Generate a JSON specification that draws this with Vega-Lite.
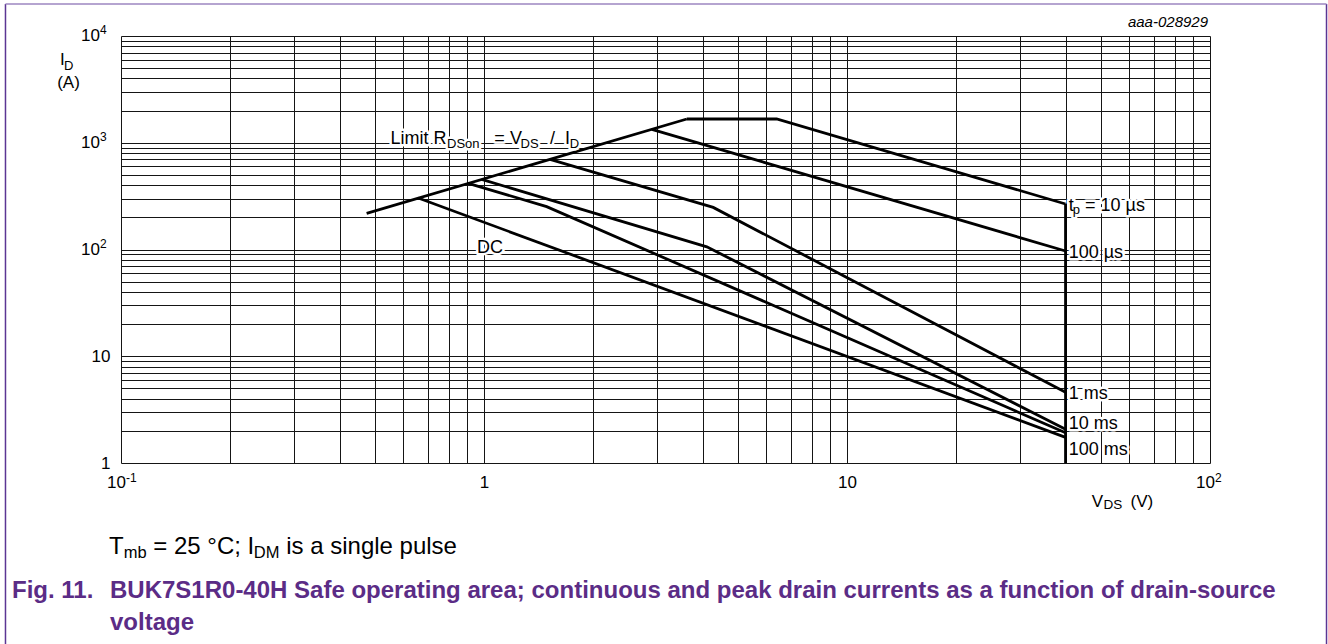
{
  "$schema": "https://vega.github.io/schema/vega-lite/v6.json",
  "width": 1089,
  "height": 427,
  "autosize": {"type": "none"},
  "padding": {"left": 121, "top": 36, "right": 118, "bottom": 181},
  "background": "white",
  "config": {"view": {"stroke": null}, "font": "Liberation Sans"},
  "datasets": {
    "soa": [
      {"series": "Limit RDSon", "k": 0, "V": 0.475, "I": 218},
      {"series": "Limit RDSon", "k": 1, "V": 3.62, "I": 1669},
      {"series": "10 us", "k": 0, "V": 3.62, "I": 1669},
      {"series": "10 us", "k": 1, "V": 6.4, "I": 1669},
      {"series": "10 us", "k": 2, "V": 40, "I": 267},
      {"series": "100 us", "k": 0, "V": 2.9, "I": 1336},
      {"series": "100 us", "k": 1, "V": 40, "I": 96.8},
      {"series": "1 ms", "k": 0, "V": 1.52, "I": 700},
      {"series": "1 ms", "k": 1, "V": 4.28, "I": 248},
      {"series": "1 ms", "k": 2, "V": 40, "I": 4.59},
      {"series": "10 ms", "k": 0, "V": 0.985, "I": 454},
      {"series": "10 ms", "k": 1, "V": 4.11, "I": 106},
      {"series": "10 ms", "k": 2, "V": 40, "I": 2.07},
      {"series": "100 ms", "k": 0, "V": 0.905, "I": 417},
      {"series": "100 ms", "k": 1, "V": 1.488, "I": 252},
      {"series": "100 ms", "k": 2, "V": 40, "I": 1.92},
      {"series": "DC", "k": 0, "V": 0.659, "I": 304},
      {"series": "DC", "k": 1, "V": 40, "I": 1.74},
      {"series": "VDS max", "k": 0, "V": 40, "I": 267},
      {"series": "VDS max", "k": 1, "V": 40, "I": 1}
    ],
    "notes": [
      {"label": "Limit R", "V": 0.5525, "I": 967, "part": "main"},
      {"label": "DSon", "V": 0.791, "I": 898.6, "part": "sub"},
      {"label": "= V", "V": 1.068, "I": 967, "part": "main"},
      {"label": "DS", "V": 1.261, "I": 898.6, "part": "sub"},
      {"label": "/", "V": 1.52, "I": 967, "part": "main"},
      {"label": "I", "V": 1.672, "I": 967, "part": "main"},
      {"label": "D", "V": 1.722, "I": 898.6, "part": "sub"},
      {"label": "DC", "V": 0.9566, "I": 92.1, "part": "main"},
      {"label": "t", "V": 40.8, "I": 230.9, "part": "main"},
      {"label": "p", "V": 41.9, "I": 215, "part": "sub"},
      {"label": "= 10 µs", "V": 45.25, "I": 230.9, "part": "main"},
      {"label": "100 µs", "V": 40.8, "I": 82.7, "part": "main"},
      {"label": "1 ms", "V": 40.8, "I": 3.977, "part": "main"},
      {"label": "10 ms", "V": 40.8, "I": 2.069, "part": "main"},
      {"label": "100 ms", "V": 40.8, "I": 1.181, "part": "main"}
    ],
    "yDecades": [
      {"V": 0.1, "I": 100, "e": "2"},
      {"V": 0.1, "I": 1000, "e": "3"},
      {"V": 0.1, "I": 10000, "e": "4"}
    ],
    "xDecades": [
      {"V": 0.1, "I": 1, "e": "-1"},
      {"V": 100, "I": 1, "e": "2"}
    ],
    "topLeft": [{"V": 0.1, "I": 10000}],
    "topRight": [{"V": 100, "I": 10000}],
    "bottomLeft": [{"V": 0.1, "I": 1}],
    "bottomRight": [{"V": 100, "I": 1}],
    "frameSides": [
      {"V": 0.04806, "I": 19940, "I2": 0.0177},
      {"V": 209.4, "I": 19940, "I2": 0.0177}
    ],
    "frameTop": [{"V": 0.04806, "V2": 209.4, "I": 19940}]
  },
  "encoding": {
    "x": {
      "field": "V",
      "type": "quantitative",
      "scale": {"type": "log", "domain": [0.1, 100], "nice": false},
      "axis": {
        "values": [0.1, 0.2, 0.3, 0.4, 0.5, 0.6, 0.7, 0.8, 0.9, 1, 2, 3, 4, 5, 6, 7, 8, 9, 10, 20, 30, 40, 50, 60, 70, 80, 90, 100],
        "grid": true,
        "gridColor": "#151515",
        "gridWidth": 1,
        "gridOpacity": 1,
        "ticks": false,
        "tickSize": 0,
        "domain": false,
        "labelExpr": "datum.value == 1 ? '1' : datum.value == 10 ? '10' : ''",
        "labelFont": "Liberation Sans",
        "labelFontSize": 17,
        "labelColor": "#000",
        "labelPadding": 19,
        "labelBaseline": "middle",
        "labelOverlap": false,
        "labelBound": false,
        "labelFlush": false,
        "title": null
      }
    },
    "y": {
      "field": "I",
      "type": "quantitative",
      "scale": {"type": "log", "domain": [1, 10000], "nice": false},
      "axis": {
        "values": [1, 2, 3, 4, 5, 6, 7, 8, 9, 10, 20, 30, 40, 50, 60, 70, 80, 90, 100, 200, 300, 400, 500, 600, 700, 800, 900, 1000, 2000, 3000, 4000, 5000, 6000, 7000, 8000, 9000, 10000],
        "grid": true,
        "gridColor": "#151515",
        "gridWidth": 1,
        "gridOpacity": 1,
        "ticks": false,
        "tickSize": 0,
        "domain": false,
        "labelExpr": "datum.value == 1 ? '1' : datum.value == 10 ? '10' : ''",
        "labelFont": "Liberation Sans",
        "labelFontSize": 17,
        "labelColor": "#000",
        "labelPadding": 11,
        "labelBaseline": "middle",
        "labelOverlap": false,
        "labelBound": false,
        "title": null
      }
    }
  },
  "layer": [
    {
      "data": {"name": "soa"},
      "mark": {"type": "line", "color": "#000", "strokeWidth": 2.8, "strokeJoin": "miter"},
      "encoding": {
        "detail": {"field": "series"},
        "order": {"field": "k", "type": "quantitative"}
      }
    },
    {
      "data": {"name": "notes"},
      "mark": {"type": "text", "align": "left", "baseline": "alphabetic", "font": "Liberation Sans", "fill": "white", "stroke": "white", "strokeWidth": 5, "strokeJoin": "round"},
      "encoding": {
        "text": {"field": "label"},
        "size": {"field": "part", "type": "ordinal", "scale": {"domain": ["main", "sub"], "range": [18, 13]}, "legend": null}
      }
    },
    {
      "data": {"name": "notes"},
      "mark": {"type": "text", "align": "left", "baseline": "alphabetic", "font": "Liberation Sans", "fill": "#000"},
      "encoding": {
        "text": {"field": "label"},
        "size": {"field": "part", "type": "ordinal", "scale": {"domain": ["main", "sub"], "range": [18, 13]}, "legend": null}
      }
    },
    {
      "data": {"name": "yDecades"},
      "mark": {"type": "text", "align": "right", "baseline": "middle", "dx": -21, "fontSize": 17, "font": "Liberation Sans", "fill": "#000"},
      "encoding": {"text": {"value": "10"}}
    },
    {
      "data": {"name": "yDecades"},
      "mark": {"type": "text", "align": "left", "baseline": "middle", "dx": -21, "dy": -6, "fontSize": 12, "font": "Liberation Sans", "fill": "#000"},
      "encoding": {"text": {"field": "e"}}
    },
    {
      "data": {"name": "xDecades"},
      "mark": {"type": "text", "align": "right", "baseline": "middle", "dx": 5, "dy": 19.5, "fontSize": 17, "font": "Liberation Sans", "fill": "#000"},
      "encoding": {"text": {"value": "10"}}
    },
    {
      "data": {"name": "xDecades"},
      "mark": {"type": "text", "align": "left", "baseline": "middle", "dx": 5, "dy": 14.5, "fontSize": 12, "font": "Liberation Sans", "fill": "#000"},
      "encoding": {"text": {"field": "e"}}
    },
    {
      "data": {"name": "topLeft"},
      "mark": {"type": "text", "align": "left", "baseline": "alphabetic", "dx": -61, "dy": 29, "fontSize": 17, "font": "Liberation Sans", "fill": "#000"},
      "encoding": {"text": {"value": "I"}}
    },
    {
      "data": {"name": "topLeft"},
      "mark": {"type": "text", "align": "left", "baseline": "alphabetic", "dx": -57, "dy": 34, "fontSize": 13, "font": "Liberation Sans", "fill": "#000"},
      "encoding": {"text": {"value": "D"}}
    },
    {
      "data": {"name": "topLeft"},
      "mark": {"type": "text", "align": "center", "baseline": "alphabetic", "dx": -52.5, "dy": 52, "fontSize": 17, "font": "Liberation Sans", "fill": "#000"},
      "encoding": {"text": {"value": "(A)"}}
    },
    {
      "data": {"name": "bottomRight"},
      "mark": {"type": "text", "align": "left", "baseline": "alphabetic", "dx": -118.3, "dy": 43.7, "fontSize": 17, "font": "Liberation Sans", "fill": "#000"},
      "encoding": {"text": {"value": "V"}}
    },
    {
      "data": {"name": "bottomRight"},
      "mark": {"type": "text", "align": "left", "baseline": "alphabetic", "dx": -106.5, "dy": 46, "fontSize": 13.5, "font": "Liberation Sans", "fill": "#000"},
      "encoding": {"text": {"value": "DS"}}
    },
    {
      "data": {"name": "bottomRight"},
      "mark": {"type": "text", "align": "left", "baseline": "alphabetic", "dx": -79.5, "dy": 43.7, "fontSize": 17, "font": "Liberation Sans", "fill": "#000"},
      "encoding": {"text": {"value": "(V)"}}
    },
    {
      "data": {"name": "topRight"},
      "mark": {"type": "text", "align": "right", "baseline": "alphabetic", "dx": -2, "dy": -9, "fontSize": 15, "fontStyle": "italic", "font": "Liberation Sans", "fill": "#000"},
      "encoding": {"text": {"value": "aaa-028929"}}
    },
    {
      "data": {"name": "bottomLeft"},
      "mark": {"type": "text", "align": "left", "baseline": "alphabetic", "dx": -12, "dy": 90.5, "fontSize": 24, "font": "Liberation Sans", "fill": "#000"},
      "encoding": {"text": {"value": "T"}}
    },
    {
      "data": {"name": "bottomLeft"},
      "mark": {"type": "text", "align": "left", "baseline": "alphabetic", "dx": 2.7, "dy": 94.5, "fontSize": 16.5, "font": "Liberation Sans", "fill": "#000"},
      "encoding": {"text": {"value": "mb"}}
    },
    {
      "data": {"name": "bottomLeft"},
      "mark": {"type": "text", "align": "left", "baseline": "alphabetic", "dx": 32.3, "dy": 90.5, "fontSize": 24, "font": "Liberation Sans", "fill": "#000"},
      "encoding": {"text": {"value": "= 25 °C; I"}}
    },
    {
      "data": {"name": "bottomLeft"},
      "mark": {"type": "text", "align": "left", "baseline": "alphabetic", "dx": 132.8, "dy": 94.5, "fontSize": 16.5, "font": "Liberation Sans", "fill": "#000"},
      "encoding": {"text": {"value": "DM"}}
    },
    {
      "data": {"name": "bottomLeft"},
      "mark": {"type": "text", "align": "left", "baseline": "alphabetic", "dx": 165.2, "dy": 90.5, "fontSize": 24, "font": "Liberation Sans", "fill": "#000"},
      "encoding": {"text": {"value": "is a single pulse"}}
    },
    {
      "data": {"name": "bottomLeft"},
      "mark": {"type": "text", "align": "left", "baseline": "alphabetic", "dx": -109, "dy": 134.5, "fontSize": 24, "fontWeight": "bold", "font": "Liberation Sans", "fill": "#5b2c86"},
      "encoding": {"text": {"value": "Fig. 11."}}
    },
    {
      "data": {"name": "bottomLeft"},
      "mark": {"type": "text", "align": "left", "baseline": "alphabetic", "dx": -11, "dy": 134.5, "fontSize": 24, "fontWeight": "bold", "font": "Liberation Sans", "fill": "#5b2c86"},
      "encoding": {"text": {"value": "BUK7S1R0-40H Safe operating area; continuous and peak drain currents as a function of drain-source"}}
    },
    {
      "data": {"name": "bottomLeft"},
      "mark": {"type": "text", "align": "left", "baseline": "alphabetic", "dx": -11, "dy": 166.5, "fontSize": 24, "fontWeight": "bold", "font": "Liberation Sans", "fill": "#5b2c86"},
      "encoding": {"text": {"value": "voltage"}}
    },
    {
      "data": {"name": "frameSides"},
      "mark": {"type": "rule", "color": "#5b3593", "strokeWidth": 1.5},
      "encoding": {"y2": {"field": "I2"}}
    },
    {
      "data": {"name": "frameTop"},
      "mark": {"type": "rule", "color": "#9d86c0", "strokeWidth": 1.5},
      "encoding": {"x2": {"field": "V2"}}
    }
  ]
}
